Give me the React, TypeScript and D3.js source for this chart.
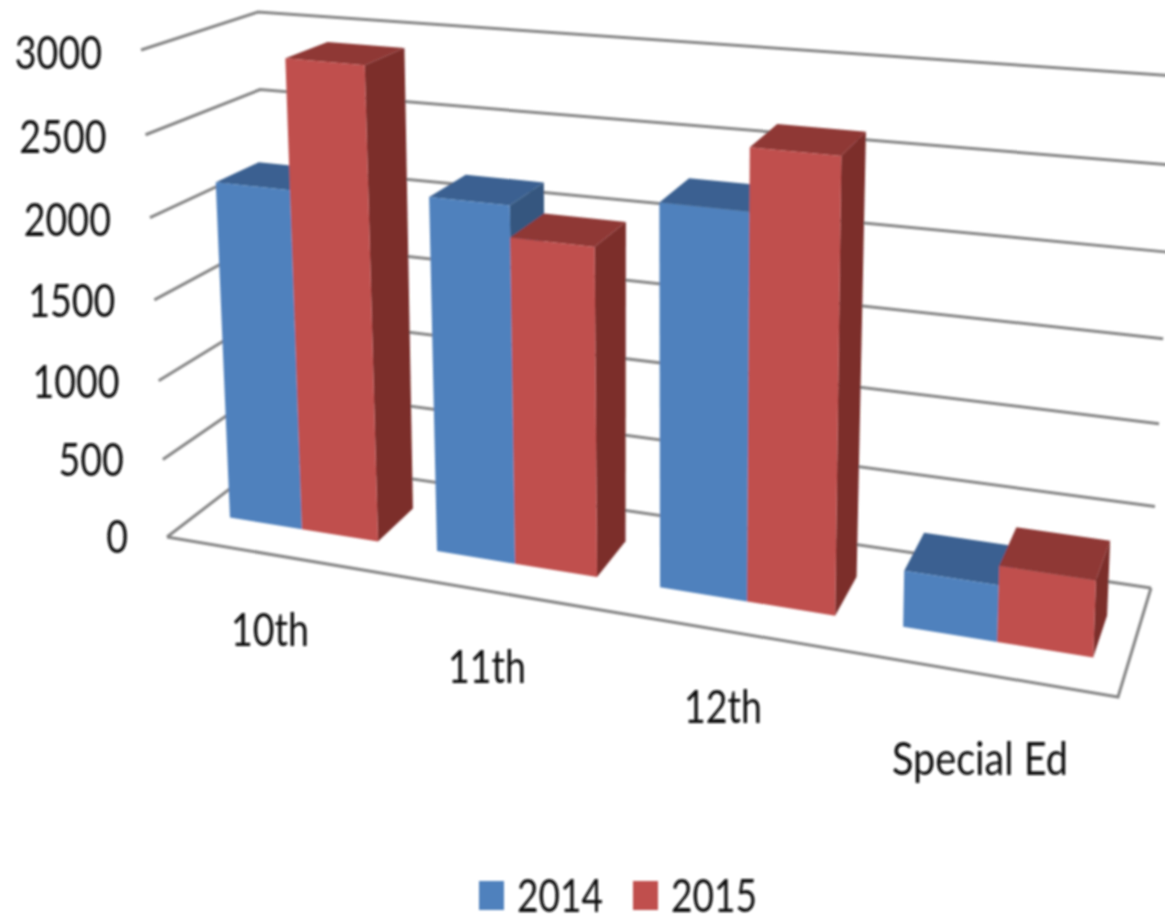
import React from "react";
import * as d3 from "d3";

const categories = ["10th", "11th", "12th", "Special Ed"];
const values2014 = [2140, 2190, 2300, 335];
const values2015 = [2935, 2000, 2665, 450];
const tickValues = [0, 500, 1000, 1500, 2000, 2500, 3000];
const categoryLabelBoxes = [
  { x: 231, w: 78, y: 646 },
  { x: 448, w: 78, y: 683 },
  { x: 684, w: 78, y: 723 },
  { x: 892, w: 176, y: 775 },
];
const legendItems = ["2014", "2015"];

const W = 1165;
const H = 918;
const FONT = "Lato, 'Open Sans', sans-serif";

// corners of the 3D box in page pixels
const corner = {
  a: [167, 537], // front-left floor
  b: [1118, 697], // front-right floor
  c: [270, 458], // back-left floor
  e: [1151, 588], // back-right floor
  f: [141, 50], // front-left top
  g: [1136, 142], // front-right top
  h: [258, 12], // back-left top
  i: [1176, 76], // back-right top
};

const lerp = d3.interpolateNumber;
function project(u: number, d: number, v: number): [number, number] {
  const out: number[] = [];
  for (const k of [0, 1]) {
    const floor = lerp(lerp(corner.a[k], corner.b[k])(u), lerp(corner.c[k], corner.e[k])(u))(d);
    const top = lerp(lerp(corner.f[k], corner.g[k])(u), lerp(corner.h[k], corner.i[k])(u))(d);
    out.push(lerp(floor, top)(v));
  }
  return [out[0], out[1]];
}

// value -> fraction of wall height; slightly bent because of the perspective
const vScale = d3.scaleLinear().domain(tickValues).range([0, 0.159, 0.321, 0.487, 0.656, 0.826, 1]);
// category position (with perspective widening) -> fraction along the floor
const uScale = d3
  .scaleLinear()
  .domain([0.1, 0.46, 0.82, 1.1, 1.46, 1.82, 2.1, 2.46, 2.82, 3.1, 3.46, 3.82])
  .range([0.0334, 0.1109, 0.1927, 0.2562, 0.3402, 0.4284, 0.4962, 0.5899, 0.6846, 0.7578, 0.859, 0.9623]);
const D0 = 0.31;
const D1 = 0.7;

const poly = d3.line<[number, number]>().curve(d3.curveLinearClosed);
const open = d3.line<[number, number]>();

const BLUE = { front: "#4F81BD", top: "#3A6191", side: "#35577F" };
const RED = { front: "#C0504D", top: "#8F3836", side: "#7B2E2C" };
const GRID = "#858585";

function Bar({ t0, t1, value, c }: { t0: number; t1: number; value: number; c: typeof BLUE }) {
  const u0 = uScale(t0);
  const u1 = uScale(t1);
  const v = vScale(value);
  const p = (u: number, d: number, w: number) => project(u, d, w);
  return (
    <g>
      <path d={poly([p(u1, D0, 0), p(u1, D1, 0), p(u1, D1, v), p(u1, D0, v)])!} fill={c.side} />
      <path d={poly([p(u0, D0, v), p(u1, D0, v), p(u1, D1, v), p(u0, D1, v)])!} fill={c.top} />
      <path d={poly([p(u0, D0, 0), p(u1, D0, 0), p(u1, D0, v), p(u0, D0, v)])!} fill={c.front} />
    </g>
  );
}

function Txt({ x, y, w, children }: { x: number; y: number; w: number; children: string }) {
  return (
    <text x={x} y={y} textLength={w} lengthAdjust="spacingAndGlyphs" fontFamily={FONT} fontSize={47} fill="#0c0c0c">
      {children}
    </text>
  );
}

export default function App() {
  const digitW = 21.8;
  return (
    <svg width={W} height={H} viewBox={`0 0 ${W} ${H}`} style={{ position: "fixed", left: 0, top: 0, background: "#fff" }}>
      <defs>
        <filter id="soft" x="-5%" y="-5%" width="110%" height="110%">
          <feGaussianBlur stdDeviation="0.8" />
        </filter>
      </defs>
      <g filter="url(#soft)">
        {tickValues.map((t) => {
          const v = vScale(t);
          return (
            <path
              key={t}
              d={open([project(0, 0, v), project(0, 1, v), project(1, 1, v)])!}
              fill="none"
              stroke={GRID}
              strokeWidth={3}
            />
          );
        })}
        <path
          d={open([project(0, 0, 0), project(1, 0, 0), project(1, 1, 0)])!}
          fill="none"
          stroke={GRID}
          strokeWidth={3}
        />
        {categories.map((cat, i) => (
          <g key={cat}>
            <Bar t0={i + 0.1} t1={i + 0.46} value={values2014[i]} c={BLUE} />
            <Bar t0={i + 0.46} t1={i + 0.82} value={values2015[i]} c={RED} />
          </g>
        ))}
        {tickValues.map((t) => {
          const [x, y] = project(0, 0, vScale(t));
          const label = String(t);
          const w = label.length * digitW;
          return (
            <Txt key={t} x={x - 39 - w} y={y + 16 + (t / 3000) * 3} w={w}>
              {label}
            </Txt>
          );
        })}
        {categories.map((cat, i) => (
          <Txt key={cat} x={categoryLabelBoxes[i].x} y={categoryLabelBoxes[i].y} w={categoryLabelBoxes[i].w}>
            {cat}
          </Txt>
        ))}
        {legendItems.map((item, i) => {
          const x = 479 + i * 154;
          return (
            <g key={item}>
              <rect x={x} y={881} width={25} height={29} fill={i === 0 ? BLUE.front : RED.front} />
              <Txt x={x + 38} y={912} w={86}>
                {item}
              </Txt>
            </g>
          );
        })}
      </g>
    </svg>
  );
}
